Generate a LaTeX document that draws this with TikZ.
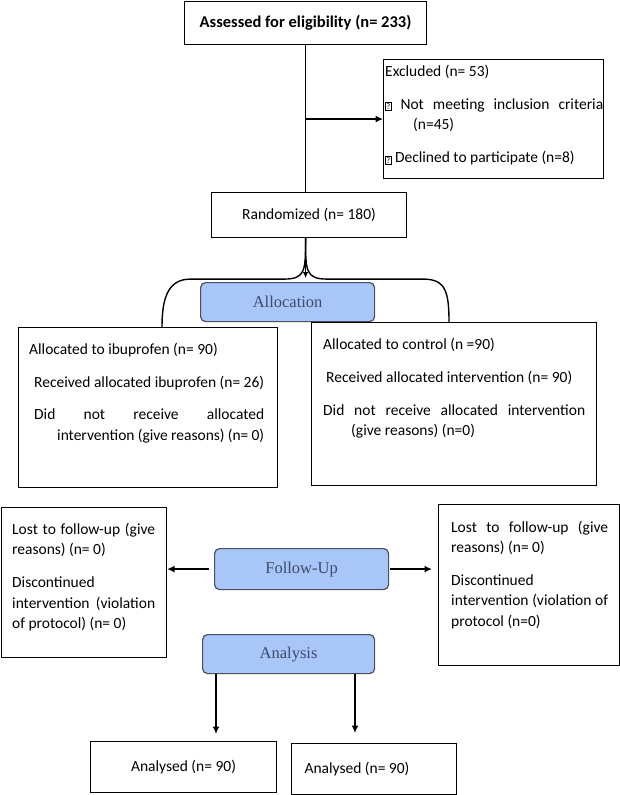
\documentclass[tikz,border=0pt]{standalone}
\usepackage{fontspec}
\setmainfont{Carlito}
\newfontfamily\phasefont{Liberation Serif}
\usetikzlibrary{arrows.meta}
\definecolor{phasefill}{HTML}{A9C6F8}
\definecolor{phasetext}{HTML}{3C4A6E}
\definecolor{phaseedge}{HTML}{4A4F5A}
\newcommand\qbox{\raisebox{-0.5pt}{\setlength\fboxsep{0.6pt}\setlength\fboxrule{0.6pt}\fbox{\fontsize{8.5}{8.5}\selectfont ?}}}
\tikzset{
  box/.style={draw, line width=1.1pt, inner sep=0pt, anchor=north west},
  phase/.style={draw=phaseedge, line width=1.2pt, fill=phasefill, rounded corners=5pt,
    inner sep=0pt, anchor=north west, text=phasetext, font=\phasefont\fontsize{16.5}{20}\selectfont},
  txt/.style={anchor=base west, inner sep=0pt, align=justify, font=\fontsize{15.5}{20.5}\selectfont},
  conn/.style={line width=1.4pt},
  arr/.style={line width=1.4pt, -{Latex[length=7.5pt,width=7pt]}}
}
\begin{document}
\begin{tikzpicture}[x=1pt,y=-1pt]
\useasboundingbox (0,0) rectangle (620,795);
% boxes
\node[box, minimum width=242pt, minimum height=43pt, font=\bfseries\fontsize{16.5}{20}\selectfont] (assess) at (184,1) {Assessed for eligibility (n= 233)};
\node[box, minimum width=220pt, minimum height=119pt] (excl) at (383,59) {};
\node[box, minimum width=195pt, minimum height=45pt, font=\fontsize{15.5}{20}\selectfont] (rand) at (211,192) {Randomized (n= 180)};
\node[phase, minimum width=174pt, minimum height=39pt] (alloc) at (200,282) {Allocation};
\node[box, minimum width=259pt, minimum height=160pt] (al1) at (18,327) {};
\node[box, minimum width=285pt, minimum height=163pt] (al2) at (311,322) {};
\node[box, minimum width=165pt, minimum height=150pt] (lost1) at (1,507) {};
\node[phase, minimum width=174pt, minimum height=41pt] (fu) at (214,548) {Follow-Up};
\node[box, minimum width=181pt, minimum height=161pt] (lost2) at (438,504) {};
\node[phase, minimum width=172pt, minimum height=39pt] (an) at (202,634) {Analysis};
\node[box, minimum width=186pt, minimum height=51pt, font=\fontsize{15.5}{20}\selectfont] (res1) at (90,741) {Analysed (n= 90)};
\node[box, minimum width=165pt, minimum height=51pt, font=\fontsize{15.5}{20}\selectfont] (res2) at (291,743) {\makebox[139pt][l]{Analysed (n= 90)}};

% box texts
\node[txt, text width=218pt] (excl-t) at (385,76) {Excluded (n= 53)\par\vspace{12.5pt}
  {\hangindent=28pt\hangafter=1 \qbox{} Not meeting inclusion criteria\linebreak (n=45)\par}\vspace{12.5pt}
  \qbox{} Declined to participate (n=8)};
\node[txt, text width=230pt] (al1-t) at (34,354) {\hspace*{-5pt}Allocated to ibuprofen (n= 90)\par\vspace{12.5pt}
  Received allocated ibuprofen (n= 26)\par\vspace{12pt}
  {\hangindent=23pt\hangafter=1 Did not receive allocated\linebreak intervention (give reasons) (n= 0)\par}};
\node[txt, text width=262pt] (al2-t) at (323,349) {Allocated to control (n =90)\par\vspace{12.5pt}
  \hspace*{3pt}Received allocated intervention (n= 90)\par\vspace{12.5pt}
  {\hangindent=28pt\hangafter=1 Did not receive allocated intervention\linebreak (give reasons) (n=0)\par}};
\node[txt, text width=143pt] (lost1-t) at (12,534) {Lost to follow-up (give\linebreak reasons) (n= 0)\par\vspace{12.5pt}
  Discontinued\newline intervention (violation\linebreak of protocol) (n= 0)};
\node[txt, text width=157pt] (lost2-t) at (451,532) {Lost to follow-up (give\linebreak reasons) (n= 0)\par\vspace{12pt}
  Discontinued\newline intervention (violation of\linebreak protocol (n=0)};

% connectors
\coordinate (split) at (assess.south |- rand.south);
\coordinate (xa) at (216,0);
\coordinate (xb) at (355,0);
\coordinate (legl) at (162,0);
\coordinate (legr) at (449,0);
\draw[conn] (assess.south) -- (assess.south |- rand.north);
\draw[arr] (assess.south |- excl.west) -- (excl.west);
\draw[arr, -{Latex[length=6pt,width=5.5pt]}, line width=1pt] (split) -- ++(0,40);
\draw[conn] (split) .. controls ++(0,33) and ++(22,0) .. ++(-22,41) -- ++(-93,0)
  .. controls ++(-22,0) and ++(0,-30) .. (legl |- al1.north);
\draw[conn] (split) .. controls ++(0,33) and ++(-22,0) .. ++(22,41) -- ++(96,0)
  .. controls ++(22,0) and ++(0,-30) .. (legr |- al2.north);
\draw[arr, shorten <=5pt] (fu.west) -- (fu.west -| lost1.east);
\draw[arr, shorten <=1pt, shorten >=6pt] (fu.east) -- (fu.east -| lost2.west);
\draw[arr, shorten >=7pt] (an.south -| xa) -- (xa |- res1.north);
\draw[arr, shorten >=10pt] (an.south -| xb) -- (xb |- res2.north);
\end{tikzpicture}
\end{document}
